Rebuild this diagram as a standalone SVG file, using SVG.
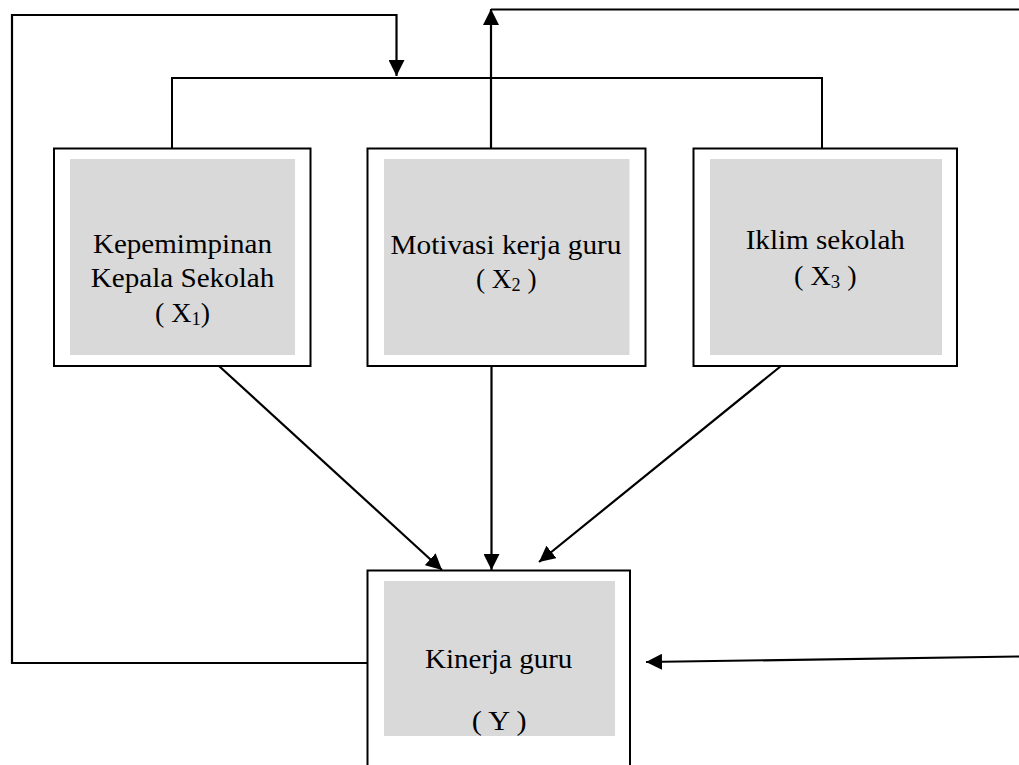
<svg xmlns="http://www.w3.org/2000/svg" width="1019" height="765" viewBox="0 0 1019 765">
<style>
.frame{fill:#ffffff;stroke:#000000;stroke-width:2}
.inner{fill:#d9d9d9;stroke:none}
.lbl{font-family:"Liberation Serif","Times New Roman",serif;font-size:27px;fill:#000000;text-anchor:middle}
.sub{font-size:18px}
.ln{fill:none;stroke:#000000;stroke-width:2}
.arr{fill:none;stroke:#000000;stroke-width:2.2;marker-end:url(#ah)}
</style>
<defs>
<marker id="ah" markerUnits="userSpaceOnUse" markerWidth="16" markerHeight="16" viewBox="0 0 16 16" refX="16" refY="8" orient="auto">
<path d="M0,0 L16,8 L0,16 Z" fill="#000000"/>
</marker>
</defs>
<rect width="1019" height="765" fill="#ffffff"/>
<g id="connectors">
<path class="ln" d="M172,148 L172,78 L822,78 L822,148"/>
<path class="arr" d="M367,663 L12,663 L12,15 L396.5,15 L396.5,76"/>
<path class="arr" d="M491,148 L491,9"/>
<path class="ln" d="M491,9.5 L1019,9.5"/>
<path class="arr" d="M219,366 L442,570"/>
<path class="arr" d="M491.5,366 L491.5,570"/>
<path class="arr" d="M781,366 L539,562"/>
<path class="arr" d="M1019,656.5 L646,662"/>
</g>
<g id="x1">
<rect class="frame" x="54" y="148.5" width="256.5" height="217.5"/>
<rect class="inner" x="70" y="159" width="225" height="196"/>
<text class="lbl" x="182.5" y="252.7" textLength="179" lengthAdjust="spacingAndGlyphs">Kepemimpinan</text>
<text class="lbl" x="182.5" y="286.7" textLength="183.6" lengthAdjust="spacingAndGlyphs">Kepala Sekolah</text>
<text class="lbl" x="182.5" y="321.5" textLength="55" lengthAdjust="spacingAndGlyphs">( X<tspan class="sub" dy="3">1</tspan><tspan dy="-3">)</tspan></text>
</g>
<g id="x2">
<rect class="frame" x="367.5" y="148.5" width="278" height="217.5"/>
<rect class="inner" x="384" y="159" width="245.5" height="196"/>
<text class="lbl" x="506" y="254" textLength="231" lengthAdjust="spacingAndGlyphs">Motivasi kerja guru</text>
<text class="lbl" x="506.3" y="288.3" textLength="60.7" lengthAdjust="spacingAndGlyphs">( X<tspan class="sub" dy="3">2</tspan><tspan dy="-3"> )</tspan></text>
</g>
<g id="x3">
<rect class="frame" x="693.5" y="148.5" width="263.5" height="217.5"/>
<rect class="inner" x="710" y="159" width="232" height="196"/>
<text class="lbl" x="825.3" y="249" textLength="159.3" lengthAdjust="spacingAndGlyphs">Iklim sekolah</text>
<text class="lbl" x="825.3" y="285" textLength="62.7" lengthAdjust="spacingAndGlyphs">( X<tspan class="sub" dy="3">3</tspan><tspan dy="-3"> )</tspan></text>
</g>
<g id="y">
<rect class="frame" x="367.5" y="570.5" width="262.5" height="240"/>
<rect class="inner" x="384" y="581" width="231" height="155"/>
<text class="lbl" x="498.7" y="668.3" textLength="147.3" lengthAdjust="spacingAndGlyphs">Kinerja guru</text>
<text class="lbl" x="499.2" y="730" textLength="55" lengthAdjust="spacingAndGlyphs">( Y )</text>
</g>
</svg>
